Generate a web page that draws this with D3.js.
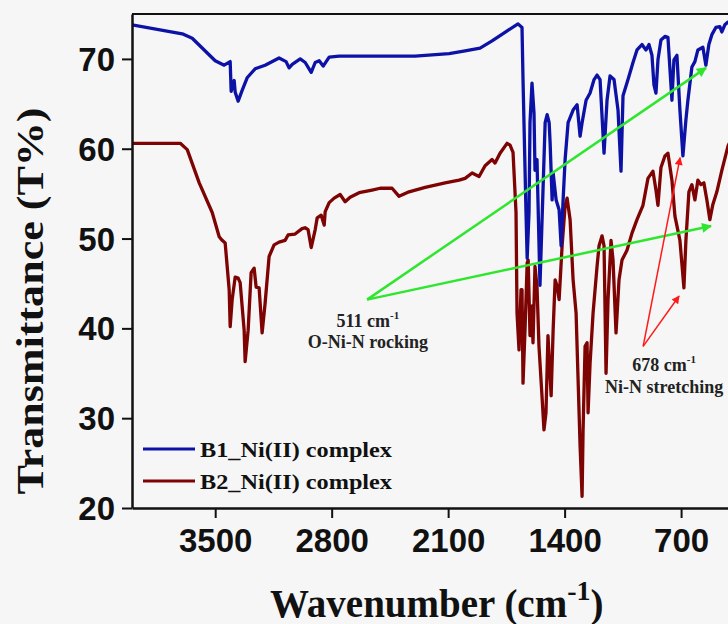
<!DOCTYPE html>
<html>
<head>
<meta charset="utf-8">
<script src="https://cdn.jsdelivr.net/npm/d3@7"></script>
<style>
  html, body { margin: 0; padding: 0; background: #f6f6f6; }
  svg { display: block; }
</style>
</head>
<body>
<svg id="chart" width="728" height="624"></svg>
<script>
// ---- Data (wavenumber cm-1, transmittance %) ----
const b1Wavenumber = [4000,3698,3638,3500,3446,3410,3404,3386,3380,3362,3338,3308,3260,3200,3116,3074,3056,3037,2989,2959,2923,2899,2875,2851,2815,2755,2497,2299,2094,1998,1908,1836,1788,1680,1656,1650,1632,1625,1614,1608,1596,1584,1578,1566,1548,1517,1505,1493,1487,1475,1469,1451,1433,1421,1409,1397,1379,1349,1325,1307,1295,1271,1247,1223,1205,1187,1163,1145,1127,1103,1079,1061,1049,1019,989,965,935,911,893,875,863,851,839,821,797,779,755,743,725,707,689,671,659,635,617,599,569,551,533,515,491,467,455,437,418,400];
const b1Transmittance = [73.8,72.8,72.3,69.8,69.3,69.7,66.4,67.6,66.3,65.3,66.5,67.9,68.9,69.3,70.1,69.7,69.0,69.4,70.0,69.6,68.5,69.6,69.8,69.2,70.2,70.3,70.3,70.3,70.6,70.9,71.2,72.0,72.6,73.9,73.5,67.7,52.9,47.8,52.9,62.9,67.3,64.0,57.6,58.8,44.8,62.9,63.8,62.9,60.6,54.3,57.3,54.3,53.2,49.2,54.3,58.8,62.9,64.3,64.9,61.4,62.9,65.4,66.2,67.7,68.2,67.7,59.5,65.4,68.1,67.7,64.3,57.5,65.9,67.7,69.6,71.0,71.6,71.0,71.6,70.4,67.1,66.2,69.9,72.1,72.5,72.4,65.4,69.9,70.4,64.3,59.2,63.2,65.4,69.1,69.7,71.0,71.3,69.3,71.6,72.7,73.5,73.6,73.0,73.8,74.1,73.9];

const b2Wavenumber = [4000,3710,3668,3596,3518,3476,3458,3440,3416,3410,3398,3380,3362,3350,3326,3320,3302,3284,3266,3254,3236,3218,3200,3176,3146,3116,3080,3062,3020,2978,2960,2942,2923,2899,2887,2863,2845,2839,2815,2785,2749,2719,2689,2635,2557,2509,2437,2395,2335,2238,2118,2034,1998,1956,1914,1878,1836,1818,1788,1746,1728,1710,1692,1686,1674,1662,1656,1650,1638,1625,1619,1608,1596,1590,1578,1566,1554,1536,1524,1512,1500,1481,1469,1457,1445,1433,1415,1397,1385,1367,1349,1331,1319,1307,1295,1289,1277,1265,1259,1247,1229,1205,1193,1175,1163,1151,1139,1121,1109,1091,1073,1055,1025,995,965,929,899,869,851,839,821,797,779,755,737,707,683,671,653,635,617,599,581,563,545,527,509,485,455,418,400];
const b2Transmittance = [60.6,60.6,59.9,56.2,52.9,50.2,49.8,49.5,44.3,40.2,43.2,45.7,45.6,45.1,39.8,36.3,39.8,46.2,46.7,44.6,44.5,39.5,42.8,48.0,49.3,49.6,49.8,50.4,50.5,51.1,51.2,51.0,49.0,51.0,52.3,52.6,51.5,53.0,54.0,54.5,54.9,54.1,54.6,55.1,55.4,55.6,55.6,54.7,55.2,55.7,56.2,56.5,56.7,57.3,56.9,58.1,58.8,58.4,59.5,60.6,60.4,59.6,52.9,41.7,37.6,44.3,44.3,33.9,39.8,47.3,47.6,39.2,42.5,38.4,46.9,44.7,38.0,32.5,28.7,30.6,39.2,32.5,39.8,45.4,44.7,43.2,49.2,53.6,54.5,52.1,45.4,41.7,34.3,26.9,21.3,28.7,38.0,38.4,30.6,36.1,41.7,46.9,49.2,50.3,49.2,35.0,43.2,49.8,47.6,39.5,45.4,47.6,48.7,50.6,52.1,53.7,56.7,57.5,55.4,53.7,57.9,59.2,59.5,56.5,52.5,49.8,44.5,49.8,55.2,56.0,54.3,56.5,56.0,56.2,54.3,52.1,53.8,55.2,57.6,60.3,61.0];

const seriesNames = ["B1_Ni(II) complex", "B2_Ni(II) complex"];
const xTicks = [3500, 2800, 2100, 1400, 700];
const yTicks = [20, 30, 40, 50, 60, 70];

// annotation anchors in data units [wavenumber, T%]
const greenOrigin = [2587, 43.2];
const greenTips = [[550, 69.0], [520, 51.4]];
const redOrigin = [928, 38.0];
const redTips = [[706, 59.0], [712, 43.6]];
const label511 = { wn: 2582, t1: 40.2, t2: 37.8, main: "511 cm", sup: "-1", sub: "O-Ni-N rocking" };
const label678 = { wn: 802, t1: 35.3, t2: 32.8, main: "678 cm", sup: "-1", sub: "Ni-N stretching" };

// ---- Layout ----
const svg = d3.select("#chart");
const mLeft = 132, mRight = 731, mTop = 14, mBottom = 508;
const x = d3.scaleLinear().domain([4000, 400]).range([mLeft, mRight]);
const y = d3.scaleLinear().domain([20, 75]).range([mBottom, mTop]);

const colors = ["#0d12a6", "#7e0303"];
const serif = "'Liberation Serif', 'Times New Roman', serif";
const sans = "'Liberation Sans', Arial, sans-serif";

const defs = svg.append("defs");
function marker(id, color, w, h) {
  defs.append("marker")
    .attr("id", id).attr("viewBox", "0 0 10 10")
    .attr("refX", 9).attr("refY", 5)
    .attr("markerWidth", w).attr("markerHeight", h)
    .attr("markerUnits", "userSpaceOnUse")
    .attr("orient", "auto")
    .append("path").attr("d", "M0,0 L10,5 L0,10 Z").attr("fill", color);
}
marker("greenHead", "#2fe62f", 16, 10);
marker("redHead", "#ff1a1a", 13, 8);

// top frame line (right edge lies beyond the view)
svg.append("line").attr("x1", mLeft).attr("x2", mRight).attr("y1", mTop).attr("y2", mTop)
  .attr("stroke", "#111").attr("stroke-width", 2);

const line = d3.line().x(d => x(d[0])).y(d => y(d[1]));
const b1 = b1Wavenumber.map((w, i) => [w, b1Transmittance[i]]);
const b2 = b2Wavenumber.map((w, i) => [w, b2Transmittance[i]]);

const clip = defs.append("clipPath").attr("id", "plotClip");
clip.append("rect").attr("x", mLeft).attr("y", mTop).attr("width", mRight - mLeft).attr("height", mBottom - mTop);

const plot = svg.append("g").attr("clip-path", "url(#plotClip)");
plot.append("path").datum(b2).attr("d", line).attr("fill", "none")
  .attr("stroke", colors[1]).attr("stroke-width", 3.3).attr("stroke-linejoin", "round");
plot.append("path").datum(b1).attr("d", line).attr("fill", "none")
  .attr("stroke", colors[0]).attr("stroke-width", 3.3).attr("stroke-linejoin", "round");

// axes
const xAxis = svg.append("g").attr("transform", `translate(0,${mBottom})`)
  .call(d3.axisBottom(x).tickValues(xTicks).tickFormat(d3.format("d"))
    .tickSize(10).tickSizeOuter(0).tickPadding(10));
const yAxis = svg.append("g").attr("transform", `translate(${mLeft},0)`)
  .call(d3.axisLeft(y).tickValues(yTicks).tickFormat(d3.format("d"))
    .tickSize(10).tickSizeOuter(0).tickPadding(7));
[xAxis, yAxis].forEach(g => {
  g.select(".domain").attr("stroke", "#111").attr("stroke-width", 2.5);
  g.selectAll(".tick line").attr("stroke", "#111").attr("stroke-width", 2);
  g.selectAll(".tick text").attr("fill", "#111")
    .style("font-family", sans).style("font-weight", "bold").style("font-size", "33px");
});
yAxis.selectAll(".tick text").attr("dy", "0.35em");
xAxis.selectAll(".tick text").attr("dy", "0.72em");

// axis titles
svg.append("text")
  .attr("transform", "translate(43,301) rotate(-90)")
  .attr("text-anchor", "middle")
  .attr("textLength", 387).attr("lengthAdjust", "spacingAndGlyphs")
  .style("font-family", serif).style("font-weight", "bold").style("font-size", "38px")
  .attr("fill", "#111")
  .text("Transmittance (T%)");

const xt = svg.append("text").attr("x", 270).attr("y", 617)
  .style("font-family", serif).style("font-weight", "bold").style("font-size", "39px")
  .attr("fill", "#111");
xt.append("tspan").text("Wavenumber (cm");
xt.append("tspan").attr("dy", -17).style("font-size", "28px").text("-1");
xt.append("tspan").attr("dy", 17).text(")");

// legend
seriesNames.forEach((name, i) => {
  const ly = 449 + i * 32;
  svg.append("line").attr("x1", 143).attr("x2", 195).attr("y1", ly).attr("y2", ly)
    .attr("stroke", colors[i]).attr("stroke-width", 3);
  svg.append("text").attr("x", 200).attr("y", ly + 8)
    .attr("textLength", 192).attr("lengthAdjust", "spacingAndGlyphs")
    .style("font-family", serif).style("font-weight", "bold").style("font-size", "22px")
    .attr("fill", "#111").text(name);
});

// annotation arrows
greenTips.forEach(t => {
  svg.append("line")
    .attr("x1", x(greenOrigin[0])).attr("y1", y(greenOrigin[1]))
    .attr("x2", x(t[0])).attr("y2", y(t[1]))
    .attr("stroke", "#2fe62f").attr("stroke-width", 2.5)
    .attr("marker-end", "url(#greenHead)");
});
redTips.forEach(t => {
  svg.append("line")
    .attr("x1", x(redOrigin[0])).attr("y1", y(redOrigin[1]))
    .attr("x2", x(t[0])).attr("y2", y(t[1]))
    .attr("stroke", "#ff1a1a").attr("stroke-width", 1.5)
    .attr("marker-end", "url(#redHead)");
});

// annotation labels
[label511, label678].forEach(l => {
  const t = svg.append("text").attr("x", x(l.wn)).attr("y", y(l.t1))
    .attr("text-anchor", "middle")
    .style("font-family", serif).style("font-weight", "bold").style("font-size", "18px")
    .attr("fill", "#222");
  t.append("tspan").text(l.main);
  t.append("tspan").attr("dy", -8).style("font-size", "11px").text(l.sup);
  svg.append("text").attr("x", x(l.wn)).attr("y", y(l.t2))
    .attr("text-anchor", "middle")
    .style("font-family", serif).style("font-weight", "bold").style("font-size", "18px")
    .attr("fill", "#222").text(l.sub);
});
</script>
</body>
</html>
